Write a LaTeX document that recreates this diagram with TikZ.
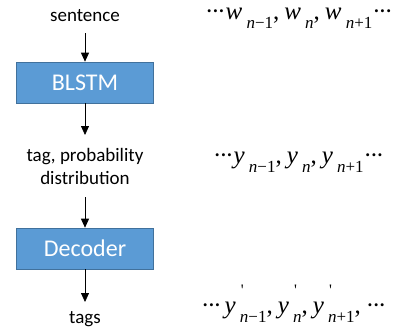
\documentclass[tikz,border=0pt]{standalone}
\usepackage{fontspec}
\setmainfont{Carlito}
\newfontfamily\mser{Liberation Serif}
\usetikzlibrary{arrows.meta}
\newcommand\sbs[1]{\raisebox{-0.36em}{\fontsize{17}{17}\selectfont\textit{#1}}}
\newcommand\sbp[1]{\rlap{\raisebox{0.7em}{\fontsize{16}{16}\selectfont\kern0.06em\textquotesingle}}\sbs{#1}}
\newcommand\cdts{·\kern-0.09em·\kern-0.09em·}
\newcommand\cm{,\hspace{5pt}}
\tikzset{
  blk/.style={draw={rgb,255:red,65;green,113;blue,156}, line width=0.6pt, fill={rgb,255:red,91;green,155;blue,213},
    minimum width=137pt, minimum height=41pt, inner sep=0pt, text=white, font=\fontsize{24}{24}\selectfont},
  lbl/.style={inner sep=0pt, font=\fontsize{19}{23}\selectfont, align=center},
  seq/.style={inner sep=0pt, anchor=base west, text height=14pt, text depth=9pt, font=\mser\fontsize{25}{25}\selectfont},
  arr/.style={-{Triangle[length=9pt,width=8pt]}, line width=0.8pt}
}
\begin{document}
\begin{tikzpicture}[x=1pt,y=-1pt]
\useasboundingbox (0,0) rectangle (398,330);
\node[lbl] (sent) at (85,16) {sentence};
\node[blk] (blstm) at (85,82.5) {BLSTM};
\node[lbl] (tagp) at (85,166) {tag, probability\\distribution};
\node[blk] (dec) at (85,248.5) {Decoder};
\node[lbl] (tags) at (85,319) {tags};
\coordinate (s1) at (85,33);
\coordinate (t1) at (85,135);
\coordinate (s2) at (85,197);
\coordinate (t2) at (85,302);
\draw[arr] (s1) -- (blstm.north);
\draw[arr] (blstm.south) -- (t1);
\draw[arr] (s2) -- (dec.north);
\draw[arr] (dec.south) -- (t2);
\node[seq] (wrow) at (205,19) {\cdts\textit{w}\,\sbs{n\textup{−1}}\cm\textit{w}\,\sbs{n}\cm\textit{w}\,\sbs{n\textup{+1}}\cdts};
\node[seq] (yrow) at (213,163) {\cdts\textit{y}\,\sbs{n\textup{−1}}\cm\textit{y}\,\sbs{n}\cm\textit{y}\,\sbs{n\textup{+1}}\cdts};
\node[seq] (yprow) at (201,313) {\cdts\hspace{3pt}\textit{y}\,\sbp{n\textup{−1}}\cm\textit{y}\,\sbp{n}\cm\textit{y}\,\sbp{n\textup{+1}}\cm\cdts};
\end{tikzpicture}
\end{document}
